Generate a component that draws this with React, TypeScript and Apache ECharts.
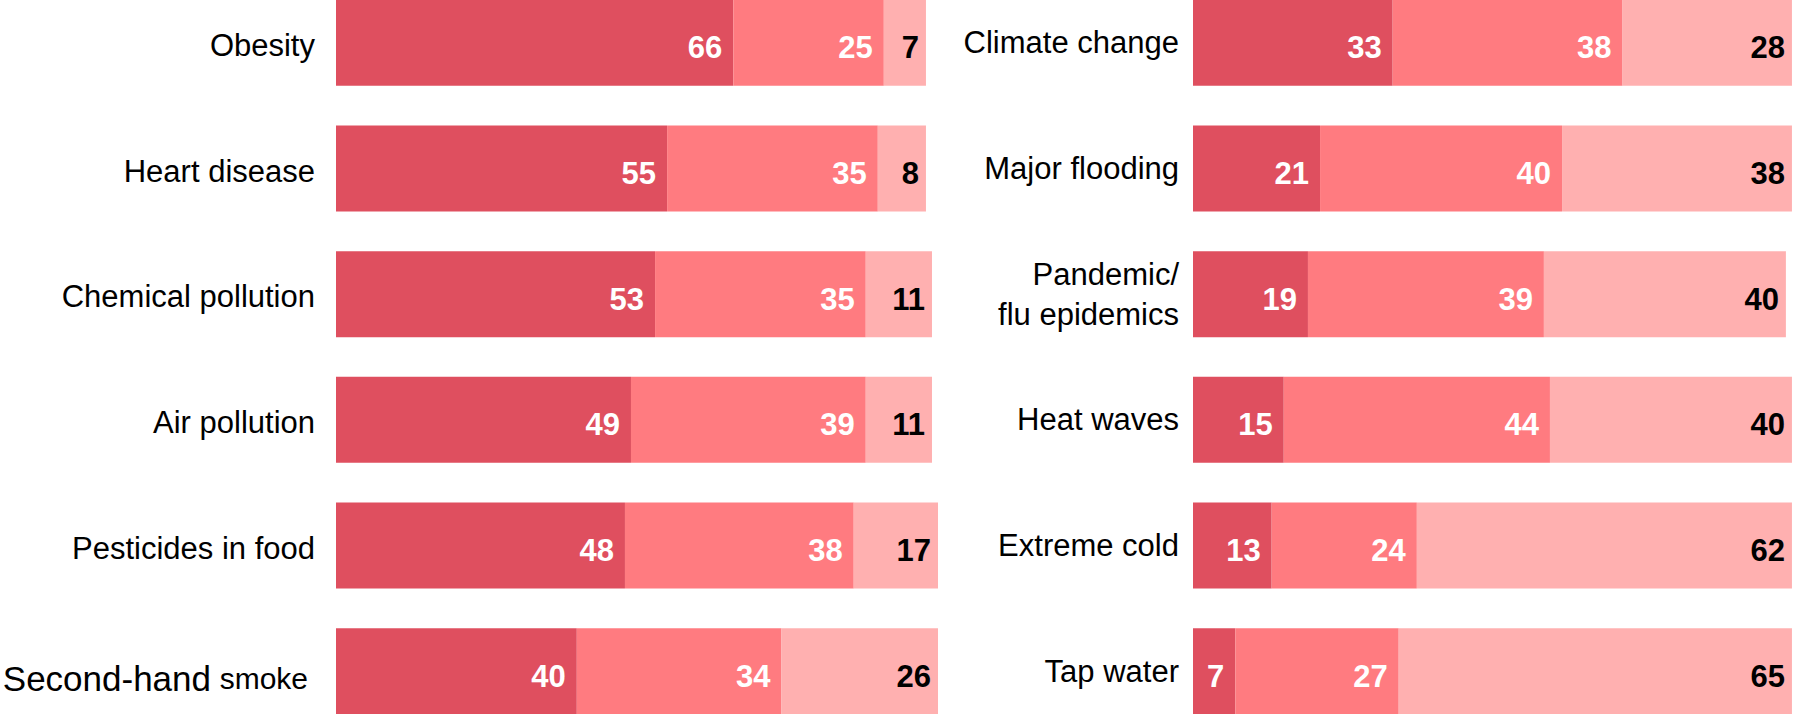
import React, { useEffect, useRef } from "react";
import * as echarts from "echarts";

const leftCategories = [
  "Obesity",
  "Heart disease",
  "Chemical pollution",
  "Air pollution",
  "Pesticides in food",
  "Second-hand smoke",
];
const leftHigh = [66, 55, 53, 49, 48, 40];
const leftMid = [25, 35, 35, 39, 38, 34];
const leftLow = [7, 8, 11, 11, 17, 26];

const rightCategories = [
  "Climate change",
  "Major flooding",
  "Pandemic/\nflu epidemics",
  "Heat waves",
  "Extreme cold",
  "Tap water",
];
const rightHigh = [33, 21, 19, 15, 13, 7];
const rightMid = [38, 40, 39, 44, 24, 27];
const rightLow = [28, 38, 40, 40, 62, 65];

const FONT = "'Liberation Sans', Arial, sans-serif";
const COLORS = ["#DF4F5F", "#FF7B80", "#FFB0B0"];

function seriesFor(idx: number, name: string, data: number[], colorIdx: number) {
  const dark = colorIdx === 2;
  return {
    type: "bar",
    name,
    stack: "s" + idx,
    xAxisIndex: idx,
    yAxisIndex: idx,
    data,
    barWidth: 86,
    itemStyle: { color: COLORS[colorIdx] },
    label: {
      show: true,
      position: "insideRight",
      distance: dark ? 7 : 11,
      offset: [0, 5],
      color: dark ? "#000000" : "#ffffff",
      fontFamily: FONT,
      fontWeight: "bold",
      fontSize: 31,
    },
  };
}

export default function App() {
  const ref = useRef<HTMLDivElement>(null);
  useEffect(() => {
    if (!ref.current) return;
    const chart = echarts.init(ref.current, null, { renderer: "svg" });
    const yAxisBase = {
      type: "category",
      inverse: true,
      axisLine: { show: false },
      axisTick: { show: false },
      splitLine: { show: false },
    };
    chart.setOption({
      animation: false,
      backgroundColor: "#ffffff",
      grid: [
        { left: 336, width: 602, top: 0, bottom: 0, outerBoundsMode: "none", containLabel: false },
        { left: 1193, width: 605, top: 0, bottom: 0, outerBoundsMode: "none", containLabel: false },
      ],
      xAxis: [
        { type: "value", gridIndex: 0, min: 0, max: 100, show: false },
        { type: "value", gridIndex: 1, min: 0, max: 100, show: false },
      ],
      yAxis: [
        {
          ...yAxisBase,
          gridIndex: 0,
          data: leftCategories,
          axisLabel: {
            margin: 21,
            color: "#000000",
            fontFamily: FONT,
            fontSize: 31,
            padding: [5, 0, 0, 0],
            formatter: (v: string) =>
              v === "Second-hand smoke" ? "{big|Second-hand} {small|smoke}" : v,
            rich: {
              big: { fontFamily: FONT, fontSize: 35, color: "#000000", padding: [10, 0, 0, 0] },
              small: { fontFamily: FONT, fontSize: 30, color: "#000000", padding: [10, 7, 0, 0] },
            },
          },
        },
        {
          ...yAxisBase,
          gridIndex: 1,
          data: rightCategories,
          axisLabel: {
            margin: 14,
            color: "#000000",
            fontFamily: FONT,
            fontSize: 31,
            lineHeight: 40,
            align: "right",
            padding: [0, 0, 8, 0],
          },
        },
      ],
      series: [
        seriesFor(0, "high", leftHigh, 0),
        seriesFor(0, "mid", leftMid, 1),
        seriesFor(0, "low", leftLow, 2),
        seriesFor(1, "high", rightHigh, 0),
        seriesFor(1, "mid", rightMid, 1),
        seriesFor(1, "low", rightLow, 2),
      ],
    });
    return () => chart.dispose();
  }, []);
  return (
    <div
      ref={ref}
      style={{ position: "absolute", left: 0, top: -20, width: 1797, height: 754 }}
    />
  );
}
